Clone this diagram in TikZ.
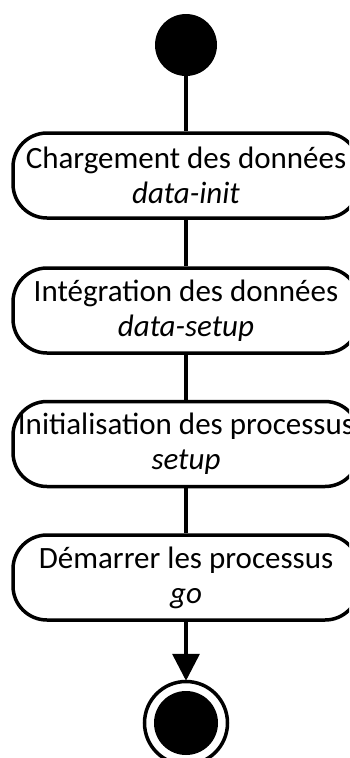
\documentclass[tikz,border=0pt]{standalone}
\usepackage{fontspec}
\setmainfont{Carlito}
\usetikzlibrary{arrows.meta}
\begin{document}
\begin{tikzpicture}[x=1pt,y=1pt,
  actbox/.style={draw=black, line width=3.5pt, rounded corners=34pt, minimum width=346pt, minimum height=85pt, inner sep=0pt, align=center, font=\fontsize{31}{35}\selectfont},
  conn/.style={draw=black, line width=3.5pt},
  startnode/.style={circle, fill=black, minimum size=62pt, inner sep=0pt},
  endring/.style={circle, draw=black, line width=3.5pt, minimum size=83pt, inner sep=0pt},
  enddisc/.style={circle, fill=black, minimum size=64pt, inner sep=0pt}]
\useasboundingbox (0,0) rectangle (349,-758);
\clip (0,0) rectangle (349,-758);
\node[startnode] (start) at (186,-45) {};
\node[actbox] (b1) at (186,-175.5) {\makebox[0pt]{Chargement des données}\\\makebox[0pt]{\itshape data-init}};
\node[actbox] (b2) at (186,-310.5) {\makebox[0pt]{Intégration des données}\\\makebox[0pt]{\itshape data-setup}};
\node[actbox] (b3) at (186,-444) {\makebox[0pt]{Initialisation des processus}\\\makebox[0pt]{\itshape setup}};
\node[actbox] (b4) at (186,-577.5) {\makebox[0pt]{Démarrer les processus}\\\makebox[0pt]{\itshape go}};
\node[endring] (endr) at (186,-723) {};
\node[enddisc] (endd) at (186,-723) {};
\draw[conn] (start) -- (b1);
\draw[conn] (b1) -- (b2);
\draw[conn] (b2) -- (b3);
\draw[conn] (b3) -- (b4);
\draw[conn, -{Triangle[length=27pt,width=27pt]}, shorten >=-1pt] (b4) -- (endr);
\end{tikzpicture}
\end{document}
